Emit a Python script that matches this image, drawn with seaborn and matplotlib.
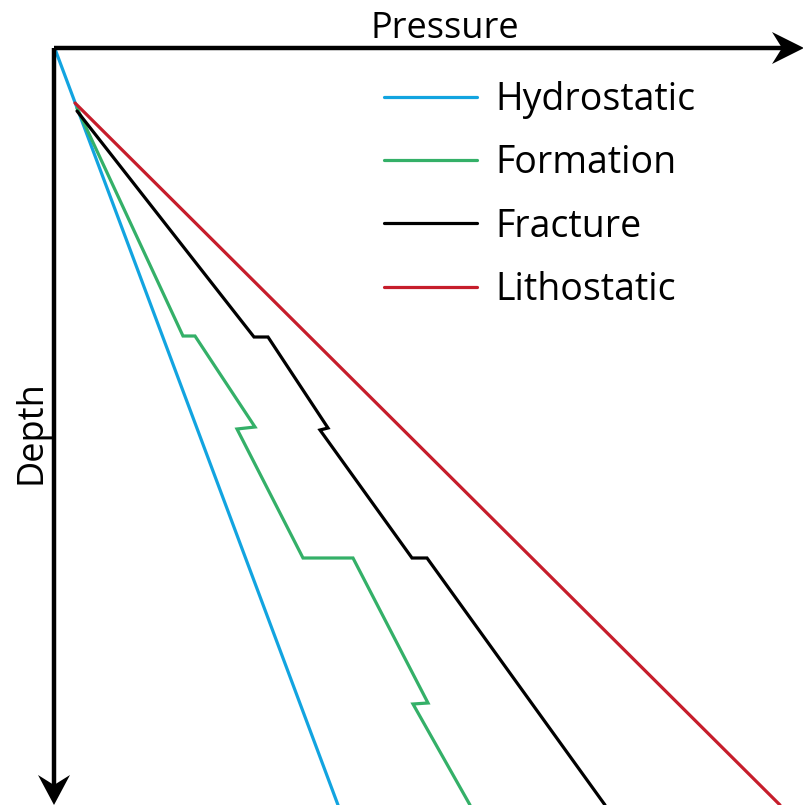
import matplotlib
matplotlib.use("Agg")
import matplotlib.pyplot as plt
from matplotlib.patches import Polygon
import seaborn as sns
import pandas as pd

# Pressure / depth profiles (arbitrary units, origin at the axes corner)
hydro_p = [1, 284]
hydro_d = [1, 757]

litho_p = [21, 726]
litho_d = [55, 757]

fracture_p = [23, 200, 214, 274, 266, 358, 373, 551]
fracture_d = [63, 289, 289, 380, 382, 510, 510, 757]

formation_p = [23, 129, 141, 201, 183, 249, 299, 374, 359, 416]
formation_d = [60, 288, 288, 379, 381, 510, 510, 655, 656, 757]

series = ["Hydrostatic", "Formation", "Fracture", "Lithostatic"]
colors = {"Hydrostatic": "#12a4e0", "Formation": "#34b068",
          "Fracture": "#000000", "Lithostatic": "#c61d2b"}

frames = []
for name, p, d in [("Hydrostatic", hydro_p, hydro_d),
                   ("Formation", formation_p, formation_d),
                   ("Fracture", fracture_p, fracture_d),
                   ("Lithostatic", litho_p, litho_d)]:
    frames.append(pd.DataFrame({"pressure": p, "depth": d, "curve": name,
                                "step": range(len(p))}))
df = pd.concat(frames, ignore_index=True)

sns.set_theme(style="white")
plt.rcParams["font.family"] = ["Open Sans", "DejaVu Sans"]
plt.rcParams["text.color"] = "black"

fig = plt.figure(figsize=(8.04, 8.05), dpi=100)
ax = fig.add_axes([0, 0, 1, 1])
ax.set_xlim(-54, 750)
ax.set_ylim(757, -48)

for name in series:
    sub = df[df["curve"] == name]
    sns.lineplot(data=sub, x="pressure", y="depth", sort=False, estimator=None,
                 color=colors[name], lw=2.3, ax=ax, label=name,
                 solid_joinstyle="miter")

for s in ax.spines.values():
    s.set_visible(False)
ax.set_xticks([])
ax.set_yticks([])
ax.set_xlabel("")
ax.set_ylabel("")

# Axis arrows
ax.plot([0, 735], [0, 0], color="black", lw=3.2, solid_capstyle="butt", zorder=5)
ax.plot([0, 0], [0, 740], color="black", lw=3.2, solid_capstyle="butt", zorder=5)
ax.add_patch(Polygon([(750, 0), (718, -16), (728, 0), (718, 16)], closed=True,
                     facecolor="black", edgecolor="none", zorder=6))
ax.add_patch(Polygon([(0, 757), (-16, 727), (0, 737), (16, 727)], closed=True,
                     facecolor="black", edgecolor="none", zorder=6))

ax.text(391, -10, "Pressure", ha="center", va="baseline", fontsize=26,
        color="black")
ax.text(-22, 384, "Depth", ha="center", va="center", fontsize=26, rotation=90,
        color="black")

leg = ax.legend(loc="upper left", bbox_to_anchor=(0.478, 0.899), frameon=False,
                fontsize=27, handlelength=2.47, handletextpad=0.5,
                labelspacing=0.67, borderaxespad=0, borderpad=0)
for line in leg.get_lines():
    line.set_linewidth(2.3)
for t in leg.get_texts():
    t.set_color("black")

fig.savefig("out.png", dpi=100)
